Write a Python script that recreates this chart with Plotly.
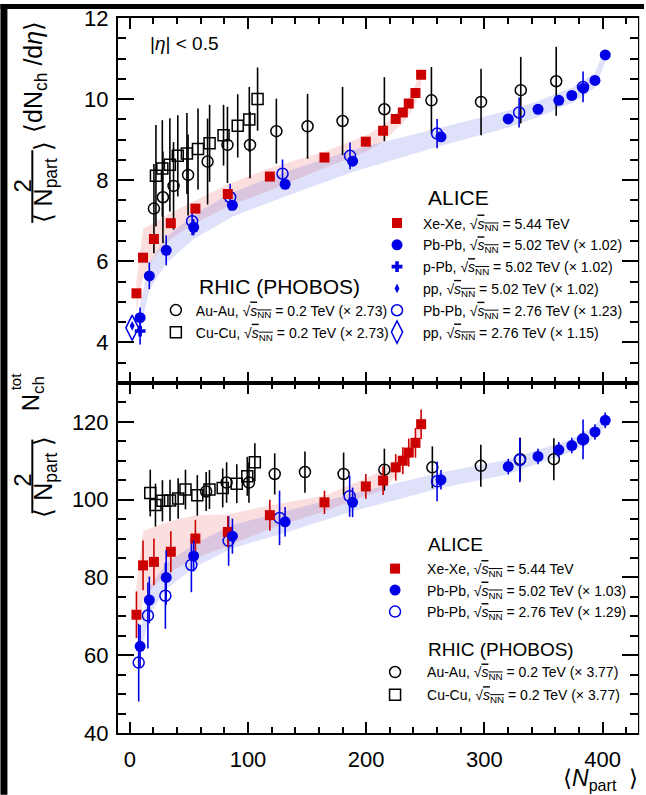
import plotly.graph_objects as go

# ---------------- data ----------------
# Xe-Xe 5.44 TeV
xexe_npart = [5.6, 11.2, 20.4, 34.7, 55.5, 82.9, 118.5, 164.7, 199.7, 214.3, 225.0, 231.0, 236.0, 241.7, 246.5]
xexe_dndeta = [5.21, 6.09, 6.55, 6.94, 7.30, 7.66, 8.09, 8.56, 8.95, 9.22, 9.51, 9.67, 9.89, 10.15, 10.60]
xexe_ntot = [70.4, 83.1, 84.0, 86.6, 90.0, 91.7, 96.0, 99.3, 103.4, 104.9, 108.3, 110.0, 112.1, 114.6, 119.4]
xexe_ntot_err = [6.0, 6.4, 6.0, 5.3, 4.8, 4.0, 4.0, 3.0, 3.2, 3.7, 3.4, 3.5, 3.6, 3.8, 3.8]
xexe_band_lo = [4.75, 5.6, 6.1, 6.55, 6.95, 7.35, 7.75, 8.3, 8.7, 8.95, 9.25, 9.4, 9.6, 9.9, 10.35]
xexe_band_hi = [5.5, 6.8, 6.95, 7.2, 7.5, 7.9, 8.3, 8.7, 9.1, 9.35, 9.65, 9.8, 10.05, 10.35, 10.8]
xexe_tot_band_lo = [65.0, 74.0, 78.0, 81.5, 85.0, 88.0, 92.5, 97.0, 101.0, 102.5, 106.0, 108.0, 110.5, 113.0, 117.5]
xexe_tot_band_hi = [78.0, 92.0, 93.0, 94.5, 96.0, 96.2, 98.5, 101.0, 105.5, 107.5, 110.5, 112.0, 114.0, 116.5, 121.5]

# Pb-Pb 5.02 TeV
pbpb5_npart = [8.7, 16.5, 30.8, 54.0, 86.8, 131.4, 188.5, 263.3, 320.2, 345.4, 363.0, 374.0, 383.8, 393.6, 402.3]
pbpb5_dndeta = [4.61, 5.64, 6.27, 6.84, 7.38, 7.90, 8.47, 9.07, 9.51, 9.75, 9.97, 10.09, 10.27, 10.46, 11.09]
pbpb5_dndeta_err = [0.25, 0.33, 0.37, 0.2, 0.12, 0.1, 0.1, 0.08, 0.08, 0.08, 0.08, 0.08, 0.08, 0.08, 0.08]
pbpb5_ntot = [62.3, 74.2, 80.0, 85.5, 90.6, 94.3, 99.3, 105.1, 108.5, 111.1, 112.8, 113.9, 115.6, 117.4, 120.4]
pbpb5_ntot_err = [5.5, 6.0, 7.0, 4.0, 4.5, 3.8, 3.8, 2.5, 2.0, 2.0, 2.0, 2.0, 2.0, 2.0, 2.0]
pbpb5_band_lo = [4.3, 5.3, 5.95, 6.55, 7.1, 7.6, 8.2, 8.85, 9.3, 9.55, 9.78, 9.9, 10.08, 10.28, 10.9]
pbpb5_band_hi = [4.95, 5.95, 6.6, 7.15, 7.7, 8.2, 8.75, 9.3, 9.72, 9.95, 10.16, 10.28, 10.46, 10.65, 11.28]
pbpb5_tot_band_lo = [59.0, 70.5, 77.0, 82.5, 87.5, 91.5, 97.0, 103.0, 106.5, 109.3, 111.0, 112.3, 114.0, 116.0, 119.0]
pbpb5_tot_band_hi = [66.0, 77.5, 83.5, 88.5, 93.5, 97.0, 101.5, 107.0, 110.3, 112.8, 114.5, 115.5, 117.2, 119.0, 122.0]

# Pb-Pb 2.76 TeV
pbpb276_npart = [52.7, 84.9, 129.2, 186.3, 260.0, 329.4, 383.5]
pbpb276_dndeta = [6.99, 7.58, 8.16, 8.60, 9.15, 9.67, 10.30]
pbpb276_dndeta_err = [0.35, 0.33, 0.35, 0.33, 0.36, 0.37, 0.38]
pbpb276_tot_npart = [7.5, 15.3, 30.1, 52.1, 83.6, 126.7, 186.0, 260.0, 330.0, 383.5]
pbpb276_ntot = [58.1, 70.2, 75.3, 83.2, 89.4, 95.3, 100.9, 104.7, 110.2, 115.5]
pbpb276_ntot_err = [10.0, 8.5, 8.5, 7.0, 6.4, 7.0, 5.3, 5.1, 5.7, 5.1]

# small systems
ppb_npart, ppb_dndeta, ppb_err = [8.7], [4.28], [0.33]
pp5_npart, pp5_dndeta, pp5_err = [2.0], [4.41], [0.05]
pp276_npart, pp276_dndeta = [2.0], [4.36]

# PHOBOS Au-Au / Cu-Cu 0.2 TeV
auau_npart = [20.4, 28.0, 37.0, 49.3, 65.8, 82.6, 101.7, 124.0, 150.4, 180.0, 215.4, 255.2, 297.2, 330.8, 360.8]
auau_dndeta = [7.30, 7.58, 7.86, 8.13, 8.46, 8.87, 8.87, 9.21, 9.33, 9.46, 9.75, 9.97, 9.93, 10.22, 10.44]
auau_dndeta_err = [1.1, 1.13, 1.08, 1.0, 1.06, 0.94, 0.82, 0.8, 0.8, 0.84, 0.79, 0.82, 0.82, 0.82, 0.85]
auau_tot_npart = [64.6, 81.9, 100.8, 122.6, 148.2, 180.9, 215.4, 256.0, 297.0, 330.3, 358.8]
auau_ntot = [102.1, 104.4, 104.4, 106.6, 107.1, 106.6, 107.7, 108.3, 108.7, 110.4, 110.4]
auau_ntot_err = [5.0, 5.2, 5.2, 5.3, 5.3, 5.5, 5.4, 5.4, 5.4, 5.5, 5.4]

cucu_npart = [22.1, 27.5, 33.9, 40.6, 48.3, 57.7, 67.5, 79.3, 91.3, 101.1, 108.1]
cucu_dndeta = [8.11, 8.29, 8.38, 8.60, 8.66, 8.77, 8.91, 9.11, 9.34, 9.50, 10.0]
cucu_dndeta_err = [1.25, 1.19, 1.15, 1.0, 1.0, 1.0, 0.95, 0.75, 0.78, 0.8, 0.78]
cucu_tot_npart = [17.3, 21.7, 27.6, 34.0, 40.9, 47.1, 57.1, 67.4, 78.6, 90.5, 99.4, 105.8]
cucu_ntot = [101.7, 98.6, 99.7, 99.8, 100.3, 102.6, 101.1, 102.6, 103.0, 104.1, 106.0, 109.6]
cucu_ntot_err = [6.0, 5.5, 5.3, 5.3, 5.2, 5.1, 5.2, 5.0, 5.0, 5.0, 5.0, 4.9]

# axis ticks
top_yticks = [4, 6, 8, 10, 12]
bot_yticks = [40, 60, 80, 100, 120]
x_ticks = [0, 100, 200, 300, 400]

# ---------------- styling ----------------
FONT = "Liberation Sans, Arial, Helvetica, sans-serif"
RED = "#cc0000"
BLUE = "#0000e6"
BLACK = "#000000"
RED_BAND = "rgba(235,80,80,0.18)"
BLUE_BAND = "rgba(80,90,230,0.18)"

W, H = 646, 795
ML, MR, MT, MB = 118, 6, 14, 62
PW, PH = W - ML - MR, H - MT - MB
SPLIT = 381  # pixel row where the two panels meet
BOT_TOP = (H - MB - SPLIT) / PH


def px(x):
    return (x - ML) / PW


def py(y):
    return (H - MB - y) / PH


SQ = "√<span style='text-decoration:overline'><i>s</i><sub>NN</sub></span>"

fig = go.Figure()


def band(xs, lo, hi, color, xa, ya):
    fig.add_trace(go.Scatter(
        x=list(xs) + list(xs)[::-1], y=list(hi) + list(lo)[::-1],
        fill="toself", fillcolor=color, mode="none", line=dict(width=0),
        hoverinfo="skip", showlegend=False, xaxis=xa, yaxis=ya))


def pts(xs, ys, err, name, symbol, size, color, xa, ya, legend, group,
        open_=False, ecolor=None, lw=1.5):
    marker = dict(symbol=symbol, size=size, color=color,
                  line=dict(width=lw if open_ else 0, color=color))
    eb = dict(visible=False)
    if err is not None:
        eb = dict(type="data", array=err, visible=True, width=0,
                  thickness=1.6, color=ecolor or color)
    fig.add_trace(go.Scatter(
        x=xs, y=ys, mode="markers", name=name, marker=marker, error_y=eb,
        xaxis=xa, yaxis=ya, legend=legend, legendgroup=group,
        showlegend=name is not None))


# ---------- top panel: <dNch/deta> ----------
band(xexe_npart, xexe_band_lo, xexe_band_hi, RED_BAND, "x2", "y")
band(pbpb5_npart, pbpb5_band_lo, pbpb5_band_hi, BLUE_BAND, "x2", "y")

pts(auau_npart, auau_dndeta, auau_dndeta_err,
    f"Au-Au, {SQ} = 0.2 TeV (× 2.73)", "circle-open", 11, BLACK, "x2", "y", "legend2", "t_au", True)
pts(cucu_npart, cucu_dndeta, cucu_dndeta_err,
    f"Cu-Cu, {SQ} = 0.2 TeV (× 2.73)", "square-open", 11, BLACK, "x2", "y", "legend2", "t_cu", True)
pts(pbpb276_npart, pbpb276_dndeta, pbpb276_dndeta_err, None, "circle-open", 11, BLUE,
    "x2", "y", "legend", "t_pb276x", True)
pts(xexe_npart, xexe_dndeta, None,
    f"Xe-Xe, {SQ} = 5.44 TeV", "square", 10, RED, "x2", "y", "legend", "t_xe")
pts(pbpb5_npart, pbpb5_dndeta, pbpb5_dndeta_err,
    f"Pb-Pb, {SQ} = 5.02 TeV (× 1.02)", "circle", 11, BLUE, "x2", "y", "legend", "t_pb5")
pts(ppb_npart, ppb_dndeta, ppb_err,
    f"p-Pb, {SQ} = 5.02 TeV (× 1.02)", "cross", 9, BLUE, "x2", "y", "legend", "t_ppb")
pts(pp5_npart, pp5_dndeta, pp5_err,
    f"pp, {SQ} = 5.02 TeV (× 1.02)", "diamond-tall", 7, BLUE, "x2", "y", "legend", "t_pp5")
# legend entry for 2.76 TeV Pb-Pb (markers drawn above, under the 5.02 points)
fig.add_trace(go.Scatter(
    x=[None], y=[None], mode="markers", name=f"Pb-Pb, {SQ} = 2.76 TeV (× 1.23)",
    marker=dict(symbol="circle-open", size=11, color=BLUE, line=dict(width=1.5, color=BLUE)),
    xaxis="x2", yaxis="y", legend="legend", legendgroup="t_pb276"))
pts(pp276_npart, pp276_dndeta, None,
    f"pp, {SQ} = 2.76 TeV (× 1.15)", "diamond-tall-open", 18, BLUE, "x2", "y", "legend", "t_pp276", True)

# ---------- bottom panel: Nch^tot ----------
band(xexe_npart, xexe_tot_band_lo, xexe_tot_band_hi, RED_BAND, "x", "y2")
band(pbpb5_npart, pbpb5_tot_band_lo, pbpb5_tot_band_hi, BLUE_BAND, "x", "y2")

pts(auau_tot_npart, auau_ntot, auau_ntot_err,
    f"Au-Au, {SQ} = 0.2 TeV (× 3.77)", "circle-open", 11, BLACK, "x", "y2", "legend4", "b_au", True)
pts(cucu_tot_npart, cucu_ntot, cucu_ntot_err,
    f"Cu-Cu, {SQ} = 0.2 TeV (× 3.77)", "square-open", 11, BLACK, "x", "y2", "legend4", "b_cu", True)
pts(pbpb276_tot_npart, pbpb276_ntot, pbpb276_ntot_err, None, "circle-open", 11, BLUE,
    "x", "y2", "legend3", "b_pb276x", True)
pts(xexe_npart, xexe_ntot, xexe_ntot_err,
    f"Xe-Xe, {SQ} = 5.44 TeV", "square", 10, RED, "x", "y2", "legend3", "b_xe")
pts(pbpb5_npart, pbpb5_ntot, pbpb5_ntot_err,
    f"Pb-Pb, {SQ} = 5.02 TeV (× 1.03)", "circle", 11, BLUE, "x", "y2", "legend3", "b_pb5")
fig.add_trace(go.Scatter(
    x=[None], y=[None], mode="markers", name=f"Pb-Pb, {SQ} = 2.76 TeV (× 1.29)",
    marker=dict(symbol="circle-open", size=11, color=BLUE, line=dict(width=1.5, color=BLUE)),
    xaxis="x", yaxis="y2", legend="legend3", legendgroup="b_pb276"))

# ---------------- axes ----------------
axis_common = dict(
    showline=True, linewidth=2, linecolor="black", mirror="ticks",
    ticks="inside", tickwidth=1.5, tickcolor="black", showgrid=False, zeroline=False,
    tickfont=dict(family=FONT, size=22, color="black"),
)
x_common = dict(axis_common, range=[-10, 430], tickvals=x_ticks, ticklen=11,
                minor=dict(dtick=20, tick0=0, ticklen=6, ticks="inside", tickwidth=1.5, tickcolor="black"))

fig.update_layout(
    xaxis=dict(x_common, domain=[0, 1], anchor="y2", ticklabelstandoff=6),
    xaxis2=dict(x_common, domain=[0, 1], anchor="y", matches="x", showticklabels=False),
    yaxis=dict(axis_common, domain=[BOT_TOP, 1], anchor="x2", range=[3, 12],
               tickvals=top_yticks, ticklen=16, ticklabelstandoff=3,
               minor=dict(dtick=0.5, tick0=0, ticklen=8, ticks="inside", tickwidth=1.5, tickcolor="black")),
    yaxis2=dict(axis_common, domain=[0, BOT_TOP], anchor="x", range=[40, 130],
                tickvals=bot_yticks, ticklen=16, ticklabelstandoff=3,
                minor=dict(dtick=5, tick0=0, ticklen=8, ticks="inside", tickwidth=1.5, tickcolor="black")),
)

# ---------------- legends ----------------
leg_font = dict(family=FONT, size=14, color="black")


def legend_box(x_px, y_px, gap, itemwidth):
    return dict(x=px(x_px), y=py(y_px), xref="paper", yref="paper", xanchor="left", yanchor="top",
                bgcolor="rgba(0,0,0,0)", borderwidth=0, font=leg_font, tracegroupgap=gap,
                itemwidth=itemwidth, itemsizing="trace", traceorder="grouped", itemclick=False)


fig.update_layout(
    legend=legend_box(372, 204.5, 0.6, 42),
    legend2=legend_box(156, 292, 1.0, 30),
    legend3=legend_box(364, 552, 0.3, 54),
    legend4=legend_box(364, 656, 1.5, 54),
)

# ---------------- text ----------------
ann = []


def text(x_px, y_px, s, size, angle=0, xanchor="center", yanchor="middle"):
    ann.append(dict(x=px(x_px), y=py(y_px), xref="paper", yref="paper", text=s, showarrow=False,
                    textangle=angle, xanchor=xanchor, yanchor=yanchor,
                    font=dict(family=FONT, size=size, color="black")))


text(148, 40, "|<i>η</i>| < 0.5", 19, xanchor="left")
text(460, 195, "ALICE", 21)
text(280, 284, "RHIC (PHOBOS)", 21)
text(427, 543, "ALICE", 19, xanchor="left")
text(427, 649, "RHIC (PHOBOS)", 19, xanchor="left")

# top y title: 2/<Npart> <dNch/deta>
text(22, 183, "2", 24, angle=-90)
text(45, 179, "⟨ N<sub>part</sub> ⟩", 25, angle=-90)
text(34, 73, "⟨dN<sub>ch</sub> /d<i>η</i>⟩", 25, angle=-90)
# bottom y title: 2/<Npart> Nch^tot
text(22, 479, "2", 24, angle=-90)
text(45, 475, "⟨ N<sub>part</sub> ⟩", 25, angle=-90)
text(33, 392, "N<sub>ch</sub>", 24, angle=-90)
text(16, 379, "tot", 15, angle=-90)
# x title
text(642, 780, "⟨<i>N</i><sub>part</sub>\u00a0\u00a0⟩", 23, xanchor="right")

fig.update_layout(annotations=ann)

# fraction bars and image frame
shapes = [
    dict(type="line", xref="paper", yref="paper", x0=px(32), x1=px(32), y0=py(147), y1=py(220),
         line=dict(color="black", width=2)),
    dict(type="line", xref="paper", yref="paper", x0=px(32), x1=px(32), y0=py(438), y1=py(512),
         line=dict(color="black", width=2)),
    dict(type="rect", xref="paper", yref="paper", x0=px(0), x1=px(7), y0=py(0), y1=py(H),
         fillcolor="black", line=dict(width=0), layer="above"),
    dict(type="rect", xref="paper", yref="paper", x0=px(0), x1=px(W), y0=py(0), y1=py(5),
         fillcolor="black", line=dict(width=0), layer="above"),
    # blank strip right of the frame
    dict(type="rect", xref="paper", yref="paper", x0=px(641.2), x1=px(W), y0=py(5), y1=py(H),
         fillcolor="white", line=dict(width=0), layer="above"),
]
fig.update_layout(shapes=shapes)

fig.update_layout(
    width=W, height=H, margin=dict(l=ML, r=MR, t=MT, b=MB),
    paper_bgcolor="white", plot_bgcolor="white",
    font=dict(family=FONT, color="black"),
)

fig.write_html(
    "out.html",
    config={"displayModeBar": False},
    post_script="document.documentElement.style.overflow='hidden';"
                "document.body.style.overflow='hidden';document.body.style.margin='0';",
)
